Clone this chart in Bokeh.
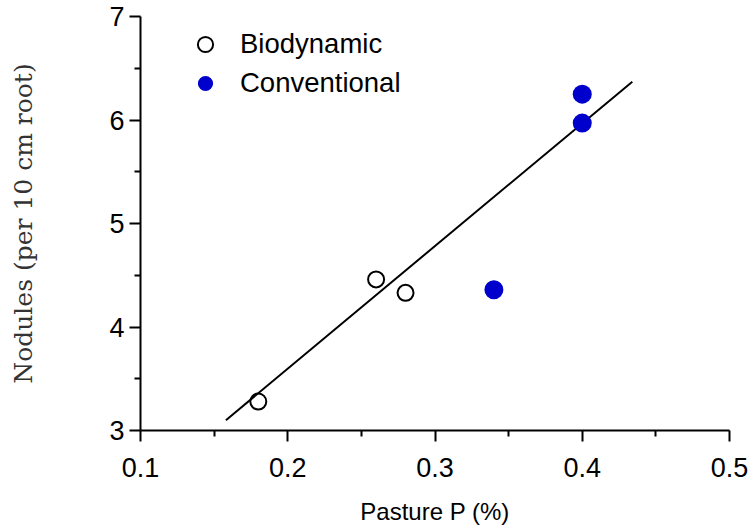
from bokeh.plotting import figure
from bokeh.models import FixedTicker, Range1d, Legend, LegendItem
from bokeh.embed import file_html
from bokeh.resources import INLINE

# Data
bio_x = [0.18, 0.26, 0.28]
bio_y = [3.28, 4.46, 4.33]
conv_x = [0.34, 0.40, 0.40]
conv_y = [4.36, 6.25, 5.97]
fit_x = [0.158, 0.434]
fit_y = [3.10, 6.37]

x_ticks = [0.1, 0.2, 0.3, 0.4, 0.5]
x_minor = [0.15, 0.25, 0.35, 0.45]
y_ticks = [3, 4, 5, 6, 7]
y_minor = [3.5, 4.5, 5.5, 6.5]

p = figure(width=754, height=527, output_backend="svg", toolbar_location=None,
           x_range=Range1d(0.1, 0.5), y_range=Range1d(3, 7),
           min_border_left=140, min_border_right=25, min_border_top=16, min_border_bottom=97)
p.outline_line_color = None
p.xgrid.visible = False
p.ygrid.visible = False
p.background_fill_color = "white"
p.border_fill_color = "white"

p.line(fit_x, fit_y, line_color="black", line_width=2)
r_bio = p.scatter(bio_x, bio_y, marker="circle", size=16, fill_color=None,
                  line_color="black", line_width=2)
r_conv = p.scatter(conv_x, conv_y, marker="circle", size=19, fill_color="#0000CC",
                   line_color="#0000CC", line_width=0)

for ax, ticks, minor in ((p.xaxis[0], x_ticks, x_minor), (p.yaxis[0], y_ticks, y_minor)):
    ax.ticker = FixedTicker(ticks=ticks, minor_ticks=minor)
    ax.axis_line_width = 2
    ax.axis_line_color = "black"
    ax.major_tick_line_width = 2
    ax.minor_tick_line_width = 2
    ax.major_tick_in = 0
    ax.major_tick_out = 11
    ax.minor_tick_in = 0
    ax.minor_tick_out = 6
    ax.major_label_text_font = "Liberation Sans"
    ax.major_label_text_font_size = "27px"
    ax.major_label_text_color = "black"

p.xaxis[0].major_label_standoff = 16
p.yaxis[0].major_label_standoff = 5

p.xaxis[0].axis_label = "Pasture P (%)"
p.xaxis[0].axis_label_text_font = "Liberation Sans"
p.xaxis[0].axis_label_text_font_size = "24px"
p.xaxis[0].axis_label_text_font_style = "normal"
p.xaxis[0].axis_label_text_color = "black"
p.xaxis[0].axis_label_standoff = 18

p.yaxis[0].axis_label = "Nodules (per 10 cm root)"
p.yaxis[0].axis_label_text_font = "DejaVu Serif"
p.yaxis[0].axis_label_text_font_size = "25px"
p.yaxis[0].axis_label_text_font_style = "normal"
p.yaxis[0].axis_label_text_color = "#333333"
p.yaxis[0].axis_label_standoff = 68

legend = Legend(items=[LegendItem(label="Biodynamic", renderers=[r_bio]),
                       LegendItem(label="Conventional", renderers=[r_conv])],
                location=(46, 328), padding=0, margin=0, spacing=1,
                glyph_width=38, glyph_height=38, label_height=38,
                label_standoff=16,
                label_text_font="Liberation Sans", label_text_font_size="27.5px",
                label_text_color="black",
                border_line_color=None, background_fill_alpha=0)
p.add_layout(legend)

open("out.html", "w").write(file_html(p, INLINE))
